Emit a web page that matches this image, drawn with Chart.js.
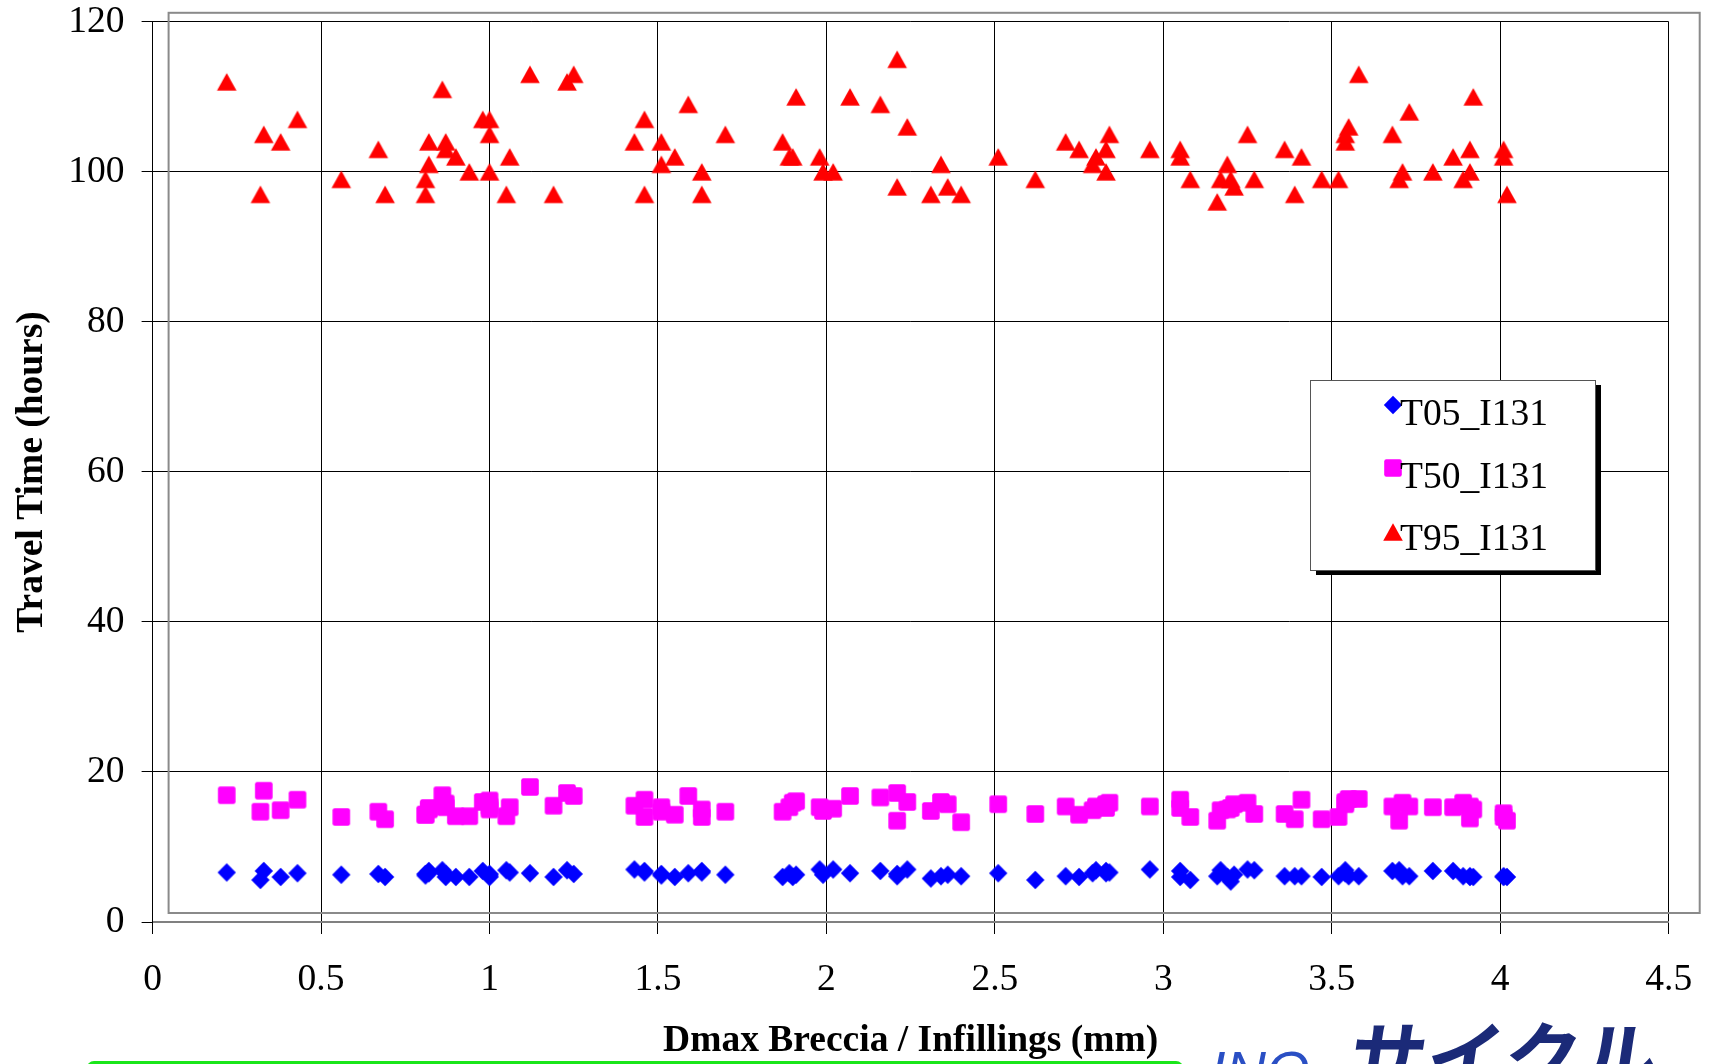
<!DOCTYPE html>
<html><head><meta charset="utf-8">
<script src="https://cdn.jsdelivr.net/npm/chart.js@4.4.1/dist/chart.umd.min.js"></script>
<style>html,body{margin:0;padding:0;background:#fff;overflow:hidden}#wrap{width:1709px;height:1064px}</style>
</head><body><div id="wrap"><canvas id="c" width="1709" height="1064"></canvas></div>
<script>
// ---- data ----
const dmax = [0.22,0.32,0.33,0.38,0.43,0.56,0.67,0.69,0.81,0.81,0.82,0.82,0.86,0.87,0.87,0.90,0.94,0.98,1.00,1.00,1.00,1.05,1.06,1.12,1.19,1.23,1.25,1.43,1.46,1.46,1.51,1.51,1.55,1.59,1.63,1.63,1.70,1.87,1.89,1.90,1.91,1.98,1.99,2.02,2.07,2.16,2.21,2.21,2.24,2.31,2.34,2.36,2.40,2.51,2.62,2.71,2.75,2.79,2.80,2.83,2.84,2.83,2.96,3.05,3.05,3.08,3.16,3.17,3.19,3.20,3.21,3.25,3.27,3.36,3.39,3.41,3.47,3.52,3.54,3.54,3.55,3.58,3.68,3.70,3.71,3.73,3.80,3.86,3.89,3.91,3.91,3.92,4.01,4.01,4.02];
const t05 = [6.6,5.6,6.8,6.0,6.5,6.3,6.4,6.0,6.4,6.2,6.8,6.5,6.9,6.0,6.4,6.0,6.0,6.8,6.0,6.4,6.2,6.9,6.6,6.5,6.0,6.9,6.4,7.0,6.8,6.6,6.4,6.2,6.0,6.5,6.8,6.6,6.3,6.0,6.5,6.0,6.3,7.0,6.3,7.0,6.5,6.8,6.1,6.4,7.0,5.8,6.1,6.3,6.1,6.5,5.6,6.1,6.0,6.5,6.9,6.8,6.6,6.5,7.0,6.8,6.0,5.6,6.1,6.9,6.0,5.4,6.3,7.0,6.9,6.1,6.1,6.1,6.0,6.1,6.5,6.9,6.1,6.1,6.8,6.9,6.1,6.1,6.8,6.8,6.1,6.0,6.1,6.0,6.1,6.0,6.0];
const t50 = [16.9,14.7,17.5,14.9,16.3,14.0,14.7,13.7,14.3,14.3,15.2,15.0,16.9,15.3,15.8,14.1,14.1,16.0,15.4,16.2,15.0,14.1,15.3,18.0,15.5,17.2,16.8,15.5,16.3,14.0,14.7,15.3,14.3,16.8,15.0,14.0,14.7,14.7,15.3,15.9,16.1,15.3,14.8,15.1,16.8,16.6,17.2,13.5,16.0,14.8,16.0,15.7,13.3,15.7,14.4,15.4,14.3,14.9,15.4,15.7,15.9,15.2,15.4,16.3,15.2,14.0,13.5,14.9,15.0,15.2,15.7,15.9,14.4,14.4,13.7,16.3,13.7,14.0,15.7,16.0,16.4,16.4,15.4,13.5,15.9,15.4,15.3,15.3,15.9,13.8,15.4,15.0,14.5,14.0,13.5];
const t95 = [112,97,105,104,107,99,103,97,97,99,101,104,111,104,103,102,100,107,107,105,100,97,102,113,97,112,113,104,107,97,104,101,102,109,100,97,105,104,102,102,110,102,100,100,110,109,115,98,106,97,101,98,97,102,99,104,103,101,102,103,105,100,103,103,102,99,96,99,101,99,98,105,99,103,97,102,99,99,104,105,106,113,105,99,100,108,100,102,99,103,100,110,103,102,97];
const seriesLabels = ['T05_I131','T50_I131','T95_I131'];
const xTickLabels = ['0','0.5','1','1.5','2','2.5','3','3.5','4','4.5'];
const yTickLabels = ['0','20','40','60','80','100','120'];
const xTitle = 'Dmax Breccia / Infillings (mm)';
const yTitle = 'Travel Time (hours)';
const logoLatin = 'INO';
const logoKana = 'サイクル';

// ---- styling ----
const SERIF = '"Liberation Serif","Times New Roman",serif';
function makeMarker(kind, color){
  const c = document.createElement('canvas'); c.width = 22; c.height = 22;
  const g = c.getContext('2d'); g.fillStyle = color; g.beginPath();
  if (kind === 'diamond'){ g.moveTo(11,1.8); g.lineTo(20.2,11); g.lineTo(11,20.2); g.lineTo(1.8,11); g.closePath(); }
  else if (kind === 'square'){ g.roundRect(2.2,2.2,17.6,17.6,2.2); }
  else { g.moveTo(11,2.3); g.lineTo(20.8,19.7); g.lineTo(1.2,19.7); g.closePath(); }
  g.fill(); return c;
}
const markers = [makeMarker('diamond','#0000FF'), makeMarker('square','#FF00FF'), makeMarker('triangle','#FF0000')];
const colors = ['#0000FF','#FF00FF','#FF0000'];
const seriesY = [t05, t50, t95];

const datasets = seriesY.map((arr, k) => ({
  label: seriesLabels[k],
  data: dmax.map((x, i) => ({x: x, y: arr[i]})),
  pointStyle: markers[k],
  backgroundColor: colors[k],
  borderColor: colors[k],
  showLine: false
}));

const framePlugin = {
  id: 'frame',
  beforeDatasetsDraw(chart){
    const {ctx, chartArea: a} = chart;
    ctx.save(); ctx.strokeStyle = '#8a8a8a'; ctx.lineWidth = 2;
    ctx.strokeRect(a.left + 16, a.top - 9, (a.right + 31) - (a.left + 16), (a.bottom - 9) - (a.top - 9));
    ctx.restore();
  }
};
const legendPlugin = {
  id: 'boxLegend',
  afterDatasetsDraw(chart){
    const ctx = chart.ctx;
    const bx = 1310, by = 380, bw = 285, bh = 190;
    ctx.save();
    ctx.fillStyle = '#000'; ctx.fillRect(bx + 6, by + 5, bw, bh);
    ctx.fillStyle = '#fff'; ctx.fillRect(bx, by, bw, bh);
    ctx.strokeStyle = '#555'; ctx.lineWidth = 1; ctx.strokeRect(bx + 0.5, by + 0.5, bw, bh);
    const rowsMarker = [405, 468, 532], rowsText = [425, 488, 550];
    ctx.font = '37.5px ' + SERIF; ctx.fillStyle = '#000'; ctx.textBaseline = 'alphabetic'; ctx.textAlign = 'left';
    chart.data.datasets.forEach((ds, k) => {
      ctx.drawImage(markers[k], 1393 - 11, rowsMarker[k] - 11);
      ctx.fillText(ds.label, 1400, rowsText[k]);
    });
    ctx.restore();
  }
};
const overlayPlugin = {
  id: 'overlay',
  afterDraw(chart){
    const ctx = chart.ctx;
    ctx.save();
    ctx.strokeStyle = '#19e619'; ctx.lineWidth = 3;
    ctx.beginPath(); ctx.roundRect(88, 1062.5, 1094, 40, 6); ctx.stroke();
    ctx.fillStyle = '#2a4fc4'; ctx.font = 'italic 56px "Liberation Sans"'; ctx.textBaseline = 'alphabetic';
    ctx.fillText(logoLatin, 1210, 1090);
    ctx.translate(1356, 1018); ctx.transform(1,0,-0.15,1,0,0);
    ctx.fillStyle = '#1b2a78'; ctx.font = 'bold 77px "Noto Sans CJK JP"'; ctx.textBaseline = 'top';
    ctx.fillText(logoKana, 0, 0);
    ctx.restore();
  }
};

new Chart(document.getElementById('c'), {
  type: 'scatter',
  data: { datasets },
  options: {
    responsive: false, animation: false, devicePixelRatio: 1,
    layout: { padding: { left: 0, top: 21.8, right: 40.3, bottom: 0 } },
    plugins: { legend: { display: false }, tooltip: { enabled: false } },
    elements: { point: { radius: 9, hoverRadius: 9 } },
    scales: {
      x: {
        type: 'linear', min: 0, max: 4.5,
        afterFit(s){ s.height = 142; s.paddingLeft = 0; s.paddingRight = 0; },
        ticks: { stepSize: 0.5, autoSkip: false, maxRotation: 0, padding: 24, color: '#000',
                 font: { family: SERIF, size: 37.5 }, callback: (v, i) => xTickLabels[i] },
        grid: { color: '#000', lineWidth: 1, drawTicks: true, tickLength: 12, tickColor: '#000' },
        border: { display: true, color: '#808080', width: 2 },
        title: { display: true, text: xTitle, color: '#000', font: { family: SERIF, size: 37.5, weight: 'bold' }, padding: { top: 0, bottom: 0 } }
      },
      y: {
        type: 'linear', min: 0, max: 120,
        afterFit(s){ s.width = 152.6; s.paddingTop = 0; s.paddingBottom = 0; },
        ticks: { stepSize: 20, padding: 17, color: '#000',
                 font: { family: SERIF, size: 37.5 }, callback: (v, i) => yTickLabels[i] },
        grid: { color: '#000', lineWidth: 1, drawTicks: true, tickLength: 11, tickColor: '#000' },
        border: { display: true, color: '#000', width: 1 },
        title: { display: true, text: yTitle, color: '#000', font: { family: SERIF, size: 37.5, weight: 'bold' }, padding: { top: 10, bottom: 0 } }
      }
    }
  },
  plugins: [framePlugin, legendPlugin, overlayPlugin]
});
</script></body></html>
